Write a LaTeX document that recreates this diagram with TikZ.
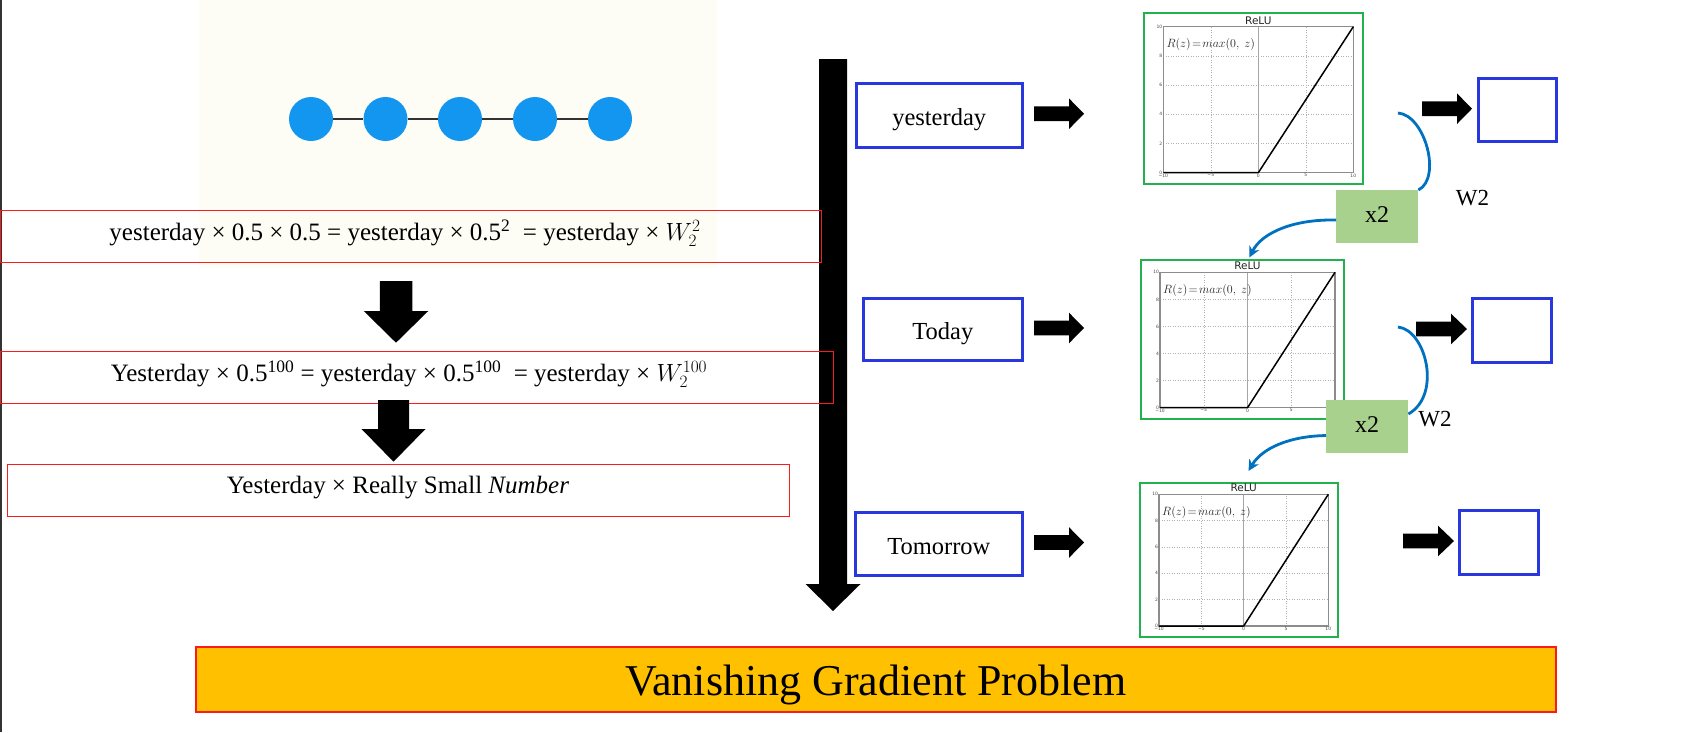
\documentclass[tikz,border=0pt]{standalone}
\usepackage{fontspec}
\setmainfont{Liberation Serif}
\newfontfamily\plotsans{DejaVu Sans}
\usetikzlibrary{arrows.meta,calc}

\definecolor{boxred}{RGB}{250,28,28}
\definecolor{lblblue}{RGB}{40,56,222}
\definecolor{plotgreen}{RGB}{34,177,76}
\definecolor{curveblue}{RGB}{0,112,192}
\definecolor{xgreen}{RGB}{169,209,142}
\definecolor{bannerfill}{RGB}{255,192,0}
\definecolor{dotblue}{RGB}{18,150,240}
\definecolor{creambg}{RGB}{253,253,246}

\tikzset{
 redbox/.style={draw=boxred, line width=1.3pt, inner sep=0, anchor=north west},
 eqtext/.style={inner sep=0, anchor=base, font=\fontsize{25}{30}\selectfont},
 lblbox/.style={draw=lblblue, line width=3pt, fill=white, inner sep=0, anchor=north west,
   font=\fontsize{24.5}{29}\selectfont, text height=20pt, text depth=0pt},
 plotbox/.style={draw=plotgreen, line width=1.8pt, fill=white, inner sep=0, anchor=north west},
 gridln/.style={draw=black!30, line width=0.5pt, dotted},
 zeroln/.style={draw=black!35, line width=1.1pt},
 axfr/.style={draw=black!45, line width=1.2pt},
 reluln/.style={draw=black, line width=1.5pt, line join=round},
 ticklab/.style={inner sep=0.8pt, font=\plotsans\fontsize{4.5}{5}\selectfont, text=black!70},
 ptitle/.style={inner sep=0, anchor=base, font=\plotsans\fontsize{10.5}{12}\selectfont, text=black!85},
 formula/.style={inner sep=0, anchor=west, font=\fontsize{12}{14}\selectfont, text=black!85},
 bead/.style={circle, fill=dotblue, minimum size=44pt, inner sep=0},
 beadline/.style={draw=black!80, line width=2.5pt},
 blk/.style={fill=black},
 bluecurve/.style={draw=curveblue, line width=2.8pt},
 bluearrow/.style={bluecurve, -{Stealth[length=11pt,width=11pt]}},
 xbox/.style={fill=xgreen, inner sep=0, anchor=north west, font=\fontsize{24}{28}\selectfont,
   text height=16pt, text depth=5pt},
 wlab/.style={inner sep=0, anchor=base, font=\fontsize{23}{27}\selectfont},
 bannerbox/.style={draw=boxred, fill=bannerfill, line width=1.8pt, inner sep=0, anchor=north west,
   font=\fontsize{44}{50}\selectfont, text height=33.3pt, text depth=0pt},
 borderln/.style={draw=black!80, line width=1.5pt},
}

% right block arrow: x1 (tail), x2 (head base), xt (tip), yc
\newcommand\rblock[4]{%
  \fill[blk] (#1,{#4-7.3}) -- (#2,{#4-7.3}) -- (#2,{#4-15.3}) -- (#3,#4)
    -- (#2,{#4+15.3}) -- (#2,{#4+7.3}) -- (#1,{#4+7.3}) -- cycle;}
% down block arrow: xc, top, head base, tip, shaft half, head half
\newcommand\dblock[6]{%
  \fill[blk] ({#1-#5},#2) -- ({#1+#5},#2) -- ({#1+#5},#3) -- ({#1+#6},#3) -- (#1,#4)
    -- ({#1-#6},#3) -- ({#1-#5},#3) -- cycle;}
% ReLU plot: name, border x1 y1 x2 y2, axes x1 y1 x2 y2
\newcommand\reluplot[9]{%
  \pgfmathsetmacro\pbw{#4-#2}\pgfmathsetmacro\pbh{#5-#3}%
  \pgfmathsetmacro\pxu{(#8-#6)/20}\pgfmathsetmacro\pyu{(#9-#7)/10}%
  \node[plotbox, minimum width=\pbw pt, minimum height=\pbh pt] (#1) at (#2,#3) {};
  \begin{scope}[shift={(#6,#9)}, x=\pxu pt, y=\pyu pt]
    \foreach \xx in {5,15} \draw[gridln] (\xx,0) -- (\xx,10);
    \foreach \yy in {2,4,6,8} \draw[gridln] (0,\yy) -- (20,\yy);
    \draw[zeroln] (10,0) -- (10,10);
    \draw[axfr] (0,0) rectangle (20,10);
    \draw[reluln] (0,0) -- (10,0) -- (20,10);
    \foreach \xx/\ll in {0/−10,5/−5,10/0,15/5,20/10}
      \node[ticklab, anchor=north] at (\xx,0) {\ll};
    \foreach \yy in {0,2,4,6,8,10}
      \node[ticklab, anchor=east] at (0,\yy) {\yy};
    \node[ptitle, yshift=2.5pt] at (10,10) {ReLU};
    \node[formula, xshift=3pt, yshift=-18pt] at (0,10) {$R(z)\!=\!max(0,\ z)$};
  \end{scope}}

\begin{document}
\begin{tikzpicture}[x=1pt, y=-1pt]
\useasboundingbox (0,0) rectangle (1705,732);
\fill[white] (0,0) rectangle (1705,732);

% faint background of the chain picture
\fill[creambg] (199,0) rectangle (717,268);

% left border line
\draw[borderln] (0.75,0) -- (0.75,732);

% chain of beads
\foreach \i/\bx in {1/311,2/385.5,3/460,4/535,5/610}
  \node[bead] (b\i) at (\bx,119) {};
\draw[beadline] (b1) -- (b2);
\draw[beadline] (b2) -- (b3);
\draw[beadline] (b3) -- (b4);
\draw[beadline] (b4) -- (b5);

% big time arrow
\dblock{833}{59}{584}{611}{14}{27.5}

% equation boxes
\node[redbox, minimum width=821pt, minimum height=52pt] (eqA) at (0,210) {};
\node[redbox, minimum width=833pt, minimum height=52pt] (eqB) at (0,351) {};
\node[redbox, minimum width=782pt, minimum height=52pt] (eqC) at (7,464) {};
\node[eqtext] (eqAt) at (405,240.7) {yesterday × 0.5 × 0.5 = yesterday × 0.5\textsuperscript{2}\ \ = yesterday × $W_2^2$};
\node[eqtext] (eqBt) at (409,381.7) {Yesterday × 0.5\textsuperscript{100} = yesterday × 0.5\textsuperscript{100}\ \ = yesterday × $W_2^{100}$};
\node[eqtext] (eqCt) at (398,493.3) {Yesterday × Really Small \textit{Number}};

% left down arrows
\dblock{396}{281}{311}{342.7}{16.25}{32.25}
\dblock{393.5}{400}{429}{461.7}{15.5}{32}

% time labels
\node[lblbox, minimum width=166pt, minimum height=63.5pt] (yest) at (854.7,82) {yesterday};
\node[lblbox, minimum width=158.7pt, minimum height=62pt] (today) at (862,297) {Today};
\node[lblbox, minimum width=166.7pt, minimum height=63pt] (tomo) at (854,511) {Tomorrow};

% arrows label -> plot
\rblock{1034}{1069}{1084}{113.75}
\rblock{1034}{1069}{1084}{328}
\rblock{1034}{1069}{1084}{542.5}

% ReLU plots
\reluplot{plotA}{1142.7}{12.3}{1362.3}{183.3}{1163.3}{26.7}{1353.3}{172.7}
\reluplot{plotB}{1140.3}{259}{1343.3}{417.7}{1160}{272.3}{1335}{407.7}
\reluplot{plotC}{1139.3}{482.3}{1337.3}{636}{1159}{494.3}{1328.3}{626}

% arrows plot -> output
\rblock{1422}{1457}{1472}{108.7}
\rblock{1416}{1451}{1467}{329}
\rblock{1403}{1438}{1454}{541}

% output boxes
\node[lblbox, minimum width=78pt, minimum height=63pt] (outA) at (1477,77) {};
\node[lblbox, minimum width=79pt, minimum height=64pt] (outB) at (1471,297) {};
\node[lblbox, minimum width=79pt, minimum height=64pt] (outC) at (1458,509) {};

% x2 boxes
\node[xbox, minimum width=82pt, minimum height=52.7pt] (xA) at (1336,190) {x2};
\node[xbox, minimum width=82pt, minimum height=52.7pt] (xB) at (1326,400) {x2};

% W2 labels
\node[wlab] (wA) at (1472.5,205) {W2};
\node[wlab] (wB) at (1435,426.7) {W2};

% blue curves
\coordinate (cAs) at (1398,113);
\coordinate (cBs) at (1398,327);
\coordinate (tipC) at (1248.5,471);
\draw[bluecurve] (cAs) .. controls (1425,115) and (1442,178) .. (xA.north east);
\draw[bluearrow] ($(xA.west)+(0,3.5)$) .. controls (1295,219) and (1262,232) .. ($(plotB.north)+(6.7,-1.5)$);
\draw[bluecurve] (cBs) .. controls (1426,330) and (1442,395) .. ($(xB.north east)+(0,14)$);
\draw[bluearrow] ($(xB.west)+(0,9)$) .. controls (1290,436) and (1262,448) .. (tipC);

% banner
\node[bannerbox, minimum width=1360pt, minimum height=65.3pt] (banner) at (195,645.7) {Vanishing Gradient Problem};
\end{tikzpicture}
\end{document}
